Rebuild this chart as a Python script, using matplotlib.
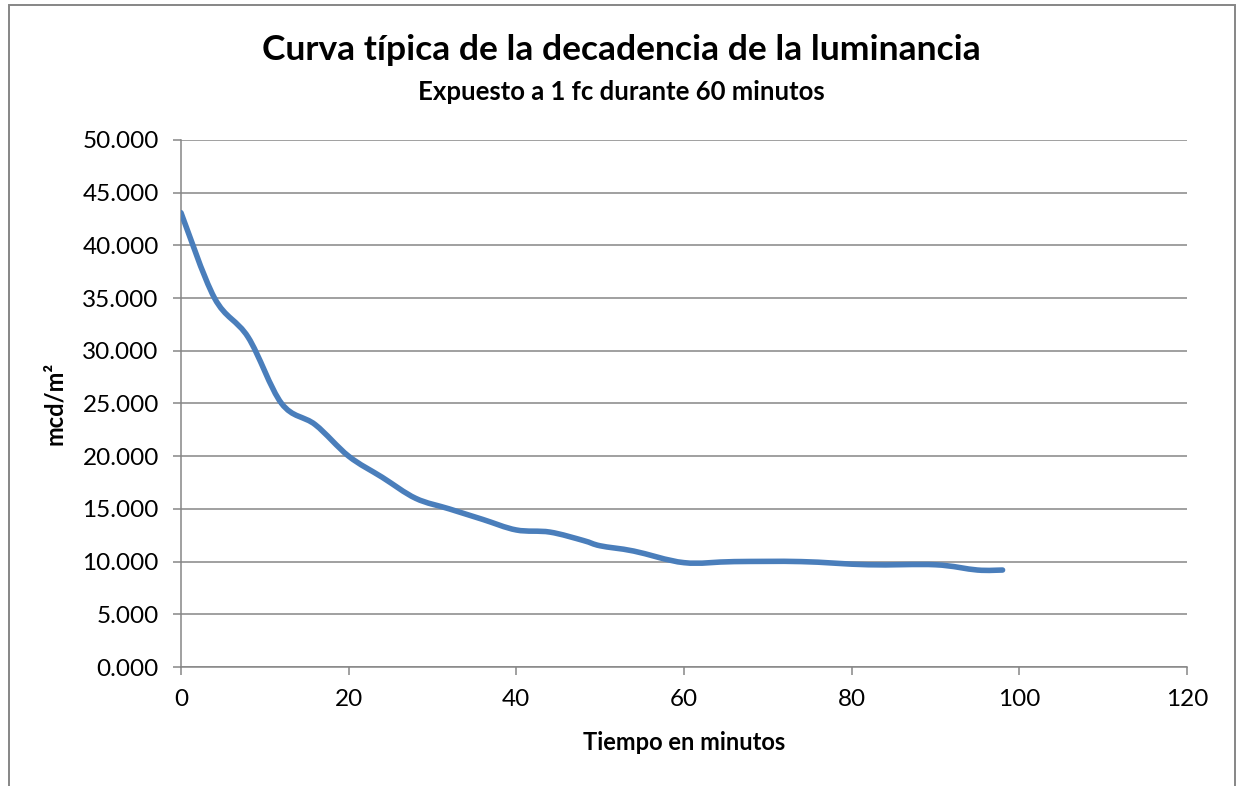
import matplotlib
matplotlib.use("Agg")
import matplotlib.pyplot as plt
from matplotlib.path import Path
from matplotlib.patches import PathPatch, Rectangle

plt.rcParams['font.family'] = ['Lato', 'DejaVu Sans']

# minutes and luminance (thousands as shown on the axis)
minutes = [0, 4, 8, 12, 16, 20, 24, 28, 32, 36, 40, 44, 48, 50, 54, 60, 66, 74, 82, 90, 95, 98]
luminance = [43.1, 35.0, 31.3, 25.0, 23.0, 20.0, 18.0, 16.0, 15.0, 14.0, 13.0, 12.8, 12.0,
             11.5, 11.0, 9.9, 10.0, 10.0, 9.7, 9.7, 9.2, 9.2]

yticks = [0, 5, 10, 15, 20, 25, 30, 35, 40, 45, 50]
xticks = [0, 20, 40, 60, 80, 100, 120]

W, H = 1237, 786
fig = plt.figure(figsize=(W / 100, H / 100), dpi=100)
ax = fig.add_axes([181 / W, 1 - 667 / H, (1187 - 181) / W, (667 - 140) / H])

gray = '#868686'
blue = '#4A7EBB'

# smooth line like Excel: Catmull-Rom segments as cubic Bezier curves
pts = list(zip(minutes, luminance))
verts = [pts[0]]
codes = [Path.MOVETO]
n = len(pts)
for i in range(n - 1):
    p0 = pts[i - 1] if i > 0 else pts[i]
    p1 = pts[i]
    p2 = pts[i + 1]
    p3 = pts[i + 2] if i + 2 < n else pts[i + 1]
    c1 = (p1[0] + (p2[0] - p0[0]) / 6, p1[1] + (p2[1] - p0[1]) / 6)
    c2 = (p2[0] - (p3[0] - p1[0]) / 6, p2[1] - (p3[1] - p1[1]) / 6)
    verts += [c1, c2, p2]
    codes += [Path.CURVE4] * 3
ax.add_patch(PathPatch(Path(verts, codes), facecolor='none', edgecolor=blue,
                       lw=4.0, capstyle='round', joinstyle='round', zorder=3))

ax.set_xlim(0, 120)
ax.set_ylim(0, 50)
ax.set_xticks(xticks)
ax.set_yticks(yticks)
ax.set_yticklabels([f'{v:.3f}' for v in yticks])
ax.grid(axis='y', color=gray, lw=1.1)
ax.set_axisbelow(True)
for s in ['top', 'right']:
    ax.spines[s].set_visible(False)
for s in ['left', 'bottom']:
    ax.spines[s].set_color(gray)
    ax.spines[s].set_linewidth(1.1)
ax.tick_params(axis='both', colors=gray, width=1.1, length=6, labelcolor='black',
               labelsize=17.5)
ax.tick_params(axis='y', pad=10)
ax.tick_params(axis='x', pad=10)

ax.set_xlabel('Tiempo en minutos', fontsize=17, fontweight='bold', labelpad=15)
ax.set_ylabel('mcd/m²', fontsize=17, fontweight='bold', labelpad=12)

fig.text(0.5 * (264 + 978) / W, 1 - 50 / H, 'Curva típica de la decadencia de la luminancia',
         ha='center', va='center', fontsize=25.5, fontweight='bold')
fig.text(0.5 * (264 + 978) / W, 1 - 92 / H, 'Expuesto a 1 fc durante 60 minutos',
         ha='center', va='center', fontsize=18.5, fontweight='bold')

fig.patches.append(Rectangle((8.5 / W, -0.05), (1234.5 - 8.5) / W, 1.05 - 4.5 / H,
                             transform=fig.transFigure, fill=False, edgecolor=gray, lw=1.4))

fig.savefig('out.png', dpi=100)
